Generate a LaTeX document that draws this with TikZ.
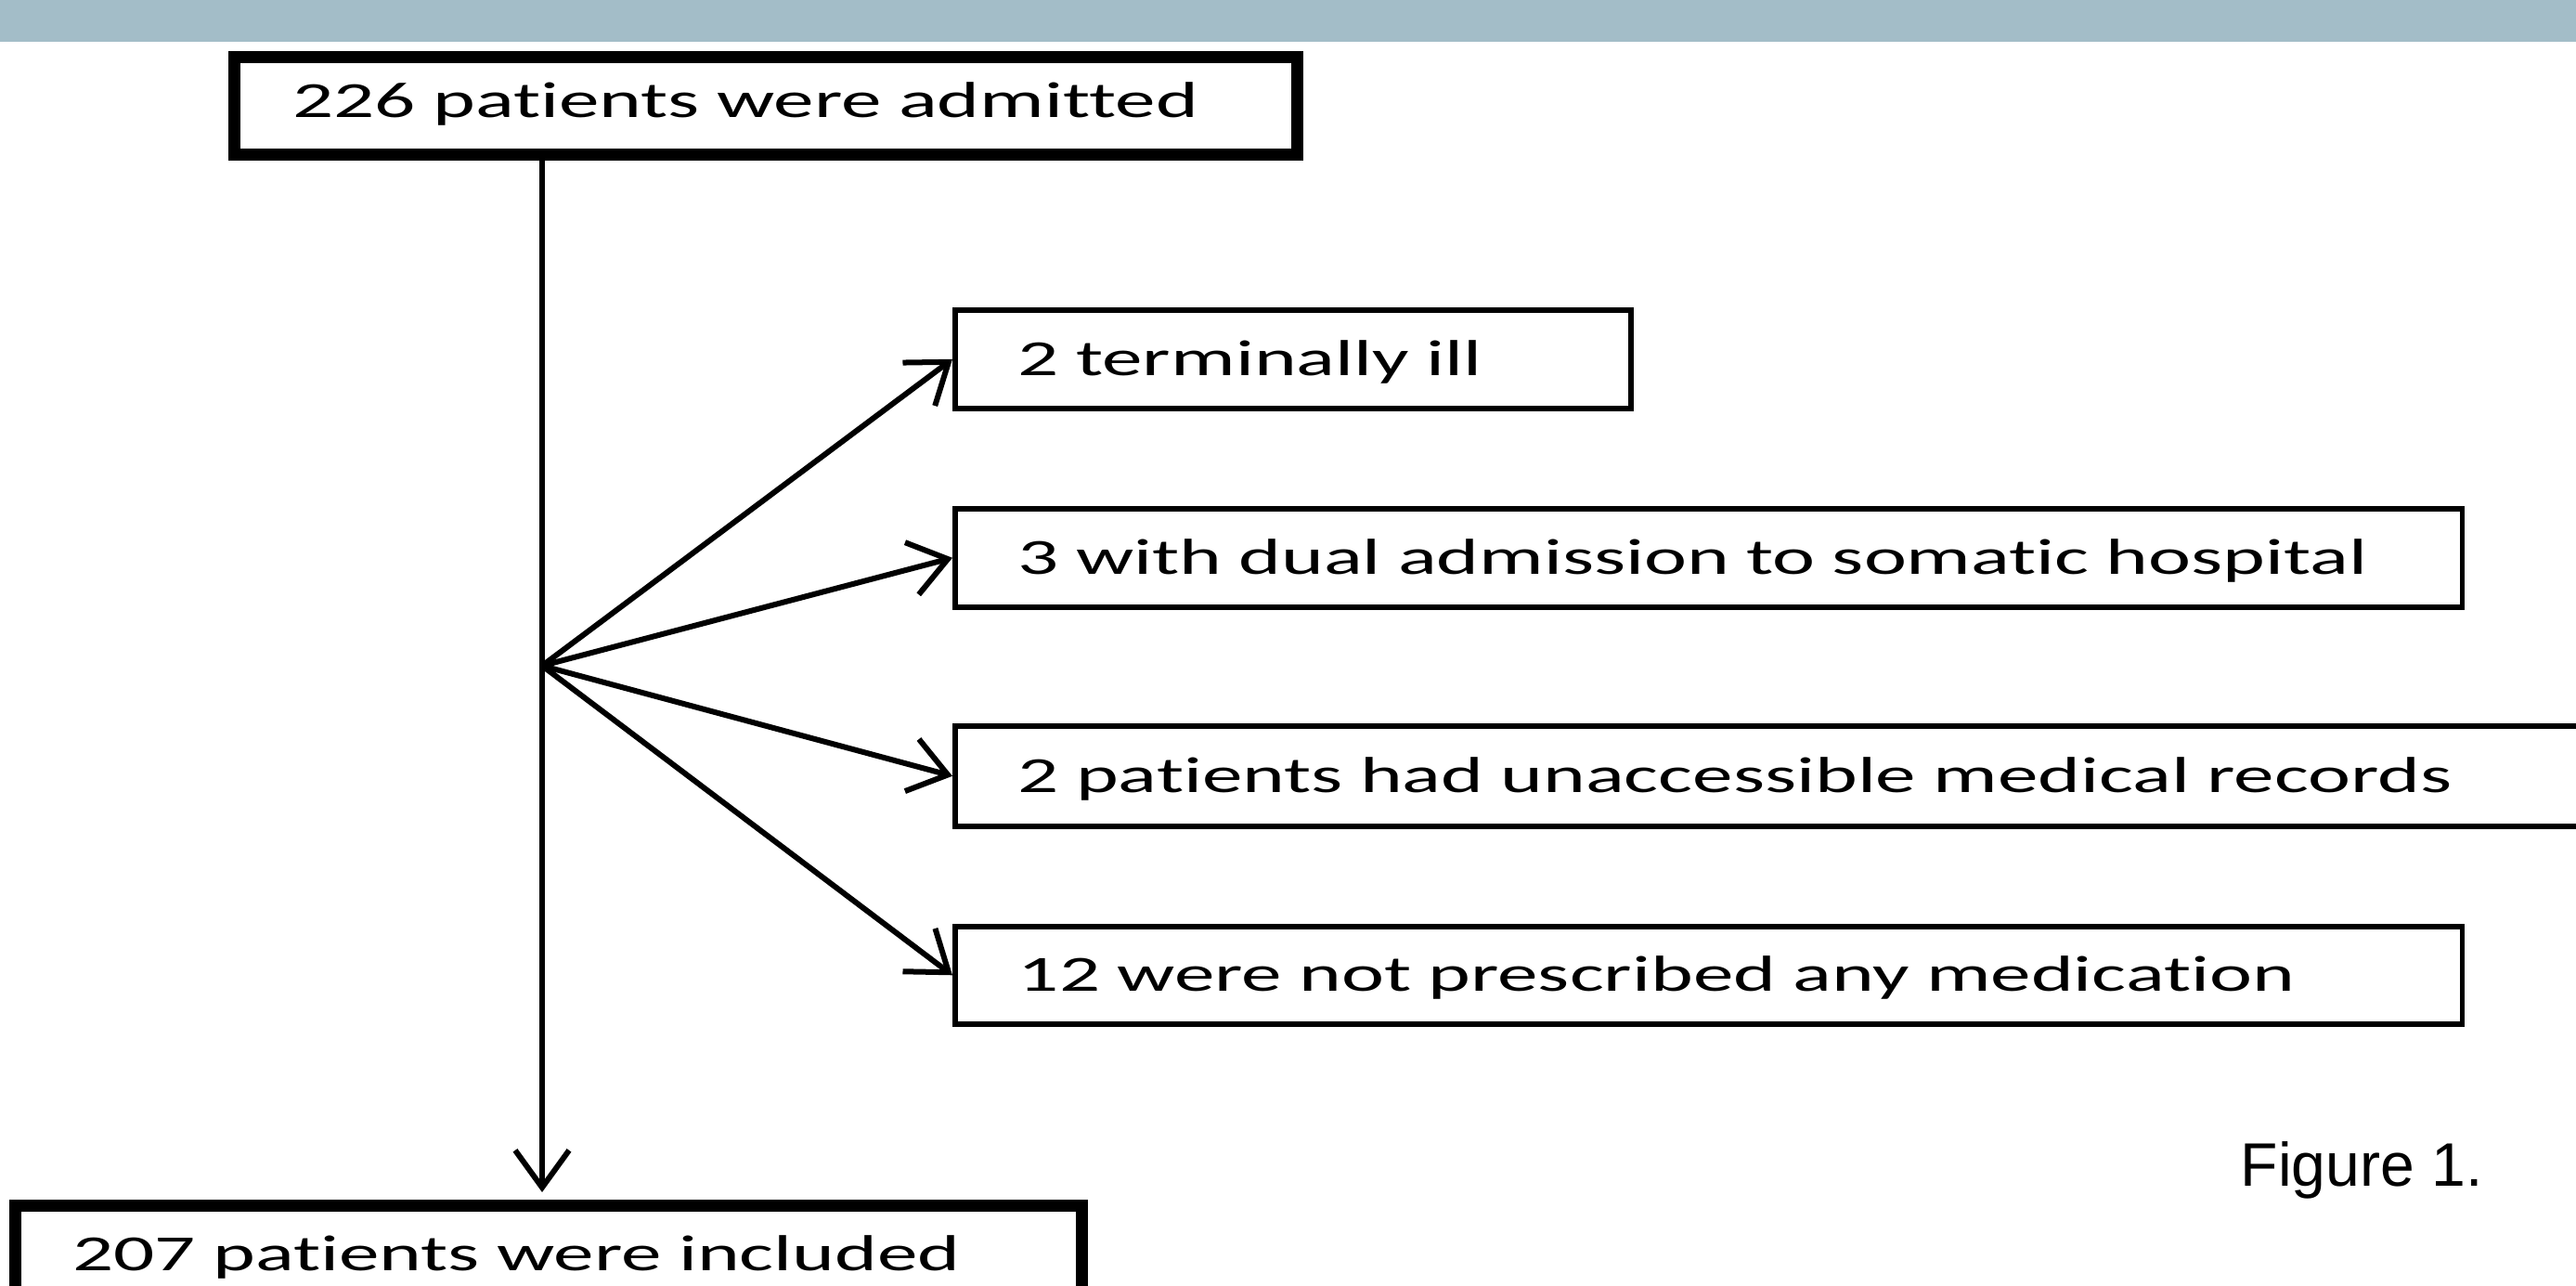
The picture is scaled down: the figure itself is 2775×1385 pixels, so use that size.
\documentclass[tikz,border=0pt]{standalone}
\usepackage{fontspec}
\usetikzlibrary{arrows.meta, positioning}

\newfontfamily\boxfont[FakeStretch=1.6, Ligatures=NoCommon]{Carlito}
\newfontfamily\capfont{Liberation Sans}
\definecolor{bandblue}{RGB}{163,189,200}

\tikzset{
	bigbox/.style={draw, line width=1.3mm, anchor=north west, align=left,
		inner xsep=0.63cm, text height=0.35cm, text depth=0.1cm,
		font=\boxfont\fontsize{15.5pt}{18pt}\selectfont},
	sidebox/.style={bigbox, line width=0.55mm, inner xsep=0.68cm, text depth=0pt, minimum height=1.06cm},
	conn/.style={line width=0.6mm, -{Straight Barb[length=4mm, width=5.8mm]}}
}

\begin{document}
\begin{tikzpicture}[x=0.01cm, y=-0.01cm]
	\useasboundingbox (0,0) rectangle (2775,1385);
	\fill[bandblue] (0,0) rectangle (2775,45);

	\node[bigbox, minimum height=1.05cm, text width=10.18cm] (admitted) at (246,55) {226 patients were admitted};
	\node[bigbox, inner xsep=0.62cm, minimum height=1.15cm, text width=10.24cm] (included) at (10,1292) {207 patients were included};

	\node[sidebox, text width=5.92cm] (ill) at (1026,331) {2 terminally ill};
	\node[sidebox, text width=14.87cm] (dual) at (1026,545) {3 with dual admission to somatic hospital};
	\node[sidebox, text width=16.9cm, minimum height=1.08cm] (records) at (1026,779) {2 patients had unaccessible medical records};
	\node[sidebox, text width=14.87cm, minimum height=1.05cm] (nomed) at (1026,995) {12 were not prescribed any medication};

	\node[font=\capfont\fontsize{18.8pt}{22pt}\selectfont, anchor=base west, inner sep=0] (figlabel) at (2413,1277) {Figure 1.};

	\coordinate (split) at (584,717);

	\draw [conn, shorten >=0.8mm] (admitted.south -| split) -- (included.north -| split);
	\path [conn]
		(split) edge (ill.west)
		(split) edge (dual.west)
		(split) edge (records.west)
		(split) edge (nomed.west)
		;
\end{tikzpicture}
\end{document}
